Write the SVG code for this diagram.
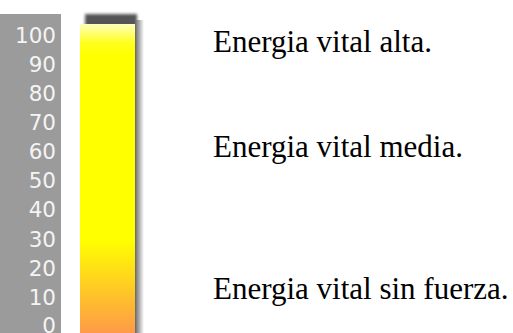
<svg xmlns="http://www.w3.org/2000/svg" width="513" height="333" viewBox="0 0 513 333">
<defs>
<linearGradient id="barGrad" x1="0" y1="0" x2="0" y2="1">
<stop offset="0" stop-color="#ffffc0"/>
<stop offset="0.06" stop-color="#ffff20"/>
<stop offset="0.1" stop-color="#ffff00"/>
<stop offset="0.7" stop-color="#ffff00"/>
<stop offset="0.85" stop-color="#ffcc22"/>
<stop offset="1" stop-color="#ff9a48"/>
</linearGradient>
<linearGradient id="shadowGrad" x1="0" y1="0" x2="1" y2="0">
<stop offset="0" stop-color="#555555"/>
<stop offset="0.4" stop-color="#999999"/>
<stop offset="1" stop-color="#ffffff"/>
</linearGradient>
<filter id="blur" x="-20%" y="-50%" width="140%" height="200%">
<feGaussianBlur stdDeviation="1.5"/>
</filter>
<style>
.tick{font-family:"DejaVu Sans",Verdana,sans-serif;font-size:21.5px;fill:#f4f4f4;text-anchor:end}
.lbl{font-family:"Liberation Serif","Times New Roman",serif;font-size:31px;fill:#000}
</style>
</defs>
<g id="scale">
<rect x="0" y="14" width="61" height="319" fill="#9b9b9b"/>
<text class="tick" x="56" y="43">100</text>
<text class="tick" x="56" y="72">90</text>
<text class="tick" x="56" y="101">80</text>
<text class="tick" x="56" y="130">70</text>
<text class="tick" x="56" y="159">60</text>
<text class="tick" x="56" y="188">50</text>
<text class="tick" x="56" y="217">40</text>
<text class="tick" x="56" y="247">30</text>
<text class="tick" x="56" y="276">20</text>
<text class="tick" x="56" y="305">10</text>
<text class="tick" x="56" y="333">0</text>
</g>
<g id="bar">
<rect x="85" y="14" width="52" height="14" fill="#555555" filter="url(#blur)"/>
<rect x="134" y="20" width="10" height="313" fill="url(#shadowGrad)"/>
<rect x="80" y="24" width="55" height="309" fill="url(#barGrad)"/>
</g>
<g id="labels">
<text class="lbl" x="213" y="52">Energia vital alta.</text>
<text class="lbl" x="213" y="157">Energia vital media.</text>
<text class="lbl" x="213" y="299">Energia vital sin fuerza.</text>
</g>
</svg>
